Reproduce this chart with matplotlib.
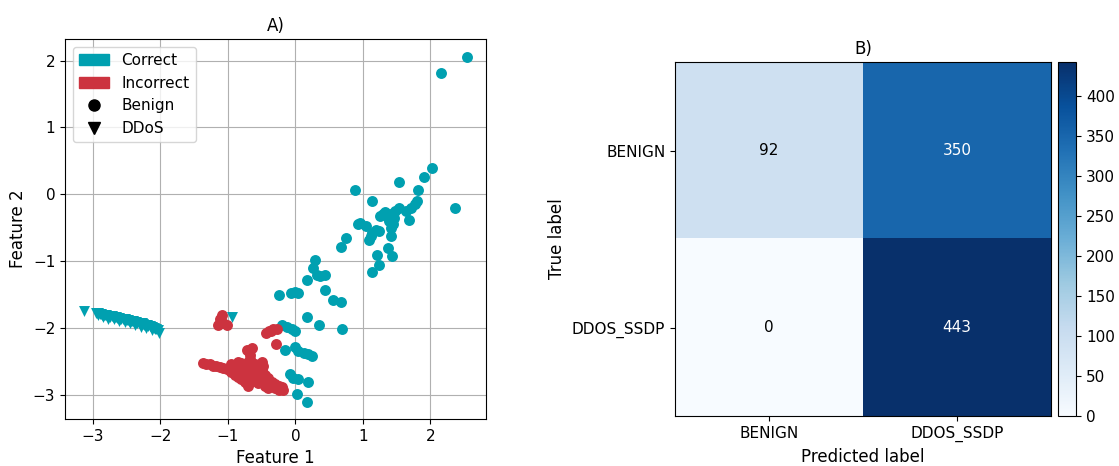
import numpy as np
import matplotlib
matplotlib.use('Agg')
import matplotlib.pyplot as plt
from matplotlib.patches import Patch
from matplotlib.lines import Line2D

teal = '#00A0B0'
red = '#CC333F'

# benign points that were classified correctly
ok_benign_x = [2.54, 2.16, 2.03, 1.90, 1.54, 1.82, 0.88, 2.36, 1.13, 1.80, 1.77, 1.71, 1.64, 1.54,
               1.33, 1.26, 1.41, 1.48, 1.39, 1.46, 1.69, 0.93, 0.95, 1.05, 1.19, 1.24, 1.14, 1.09,
               1.12, 1.41, 1.41, 0.75, 0.67, 1.37, 1.21, 1.43, 1.24, 1.14, 0.29, 0.26, 0.32, 0.37,
               0.44, 0.17, 0.44, 0.56, 0.67, -0.24, -0.07, 0.00, 0.04, 0.17, 0.35, 0.69, -0.20,
               -0.12, -0.05, 0.00, -0.15, 0.00, 0.04, 0.12, 0.19, 0.25, -0.08, -0.03, 0.04, 0.18,
               0.03, 0.17, 1.36, 1.30, 1.44]
ok_benign_y = [2.06, 1.82, 0.39, 0.26, 0.18, 0.07, 0.07, -0.21, -0.10, -0.10, -0.15, -0.20, -0.25, -0.20,
               -0.27, -0.33, -0.30, -0.25, -0.40, -0.35, -0.39, -0.45, -0.43, -0.47, -0.53, -0.55, -0.58, -0.68,
               -0.63, -0.50, -0.63, -0.66, -0.78, -0.80, -0.90, -0.92, -1.05, -1.16, -0.98, -1.10, -1.20, -1.22,
               -1.20, -1.28, -1.43, -1.58, -1.61, -1.50, -1.47, -1.46, -1.47, -1.84, -1.96, -2.01, -1.95,
               -1.99, -2.02, -2.04, -2.32, -2.28, -2.34, -2.37, -2.39, -2.42, -2.69, -2.74, -2.76, -2.80,
               -2.99, -3.10, -0.33, -0.30, -0.45]

# benign points that were misclassified
bad_benign_x = [-1.09, -1.12, -1.14, -1.02, -1.08, -0.39, -0.33, -0.28, -0.43, -0.36, -0.29, -0.72, -0.65,
                -0.68, -0.68, -1.37, -1.32, -1.27, -1.22, -1.17, -1.12, -1.07, -1.02, -0.97,
                -0.95, -0.95, -0.90, -0.90, -0.90, -0.85, -0.85, -0.85, -0.85, -0.80, -0.80, -0.80, -0.80,
                -0.75, -0.75, -0.75, -0.75, -0.70, -0.70, -0.70, -0.70, -0.70, -0.65, -0.65, -0.65, -0.65,
                -0.60, -0.60, -0.60, -0.60, -0.55, -0.55, -0.55, -0.55, -0.49, -0.50, -0.50, -0.50,
                -0.45, -0.45, -0.45, -0.40, -0.40, -0.40, -0.35, -0.35, -0.30, -0.30, -0.25, -0.25,
                -0.20, -0.18, -0.88, -0.78, -0.68, -0.58, -0.48, -0.83, -0.73, -0.63, -0.53, -0.92,
                -0.82, -0.72, -0.62, -0.52, -0.42, -0.33, -0.23]
bad_benign_y = [-1.81, -1.87, -1.96, -1.96, -1.93, -2.04, -2.01, -2.02, -2.07, -2.05, -2.23, -2.32, -2.29,
                -2.40, -2.46, -2.52, -2.53, -2.54, -2.56, -2.57, -2.58, -2.59, -2.61, -2.60,
                -2.53, -2.66, -2.55, -2.63, -2.70, -2.50, -2.58, -2.66, -2.73, -2.52, -2.60, -2.68, -2.76,
                -2.55, -2.63, -2.72, -2.80, -2.50, -2.58, -2.66, -2.75, -2.86, -2.55, -2.63, -2.71, -2.79,
                -2.53, -2.62, -2.70, -2.78, -2.58, -2.66, -2.74, -2.82, -2.51, -2.62, -2.72, -2.80,
                -2.70, -2.78, -2.86, -2.75, -2.83, -2.89, -2.80, -2.87, -2.83, -2.90, -2.86, -2.92,
                -2.88, -2.92, -2.59, -2.56, -2.54, -2.57, -2.56, -2.70, -2.68, -2.67, -2.70, -2.58,
                -2.64, -2.62, -2.74, -2.76, -2.79, -2.84, -2.89]

# ddos points that were classified correctly
ok_ddos_x = [-3.13, -0.94, -2.96, -2.94, -2.92, -2.90, -2.88, -2.86, -2.84, -2.82, -2.80, -2.78, -2.76,
             -2.74, -2.72, -2.70, -2.68, -2.66, -2.64, -2.62, -2.60, -2.58, -2.56, -2.54, -2.52, -2.50,
             -2.48, -2.46, -2.44, -2.42, -2.40, -2.38, -2.36, -2.34, -2.32, -2.30, -2.28, -2.26, -2.24,
             -2.22, -2.20, -2.18, -2.16, -2.14, -2.12, -2.10, -2.08, -2.06, -2.04, -2.02,
             -2.93, -2.85, -2.77, -2.69, -2.61, -2.53, -2.45, -2.37, -2.29, -2.21, -2.13]
ok_ddos_y = [-1.75, -1.83, -1.77, -1.78, -1.77, -1.79, -1.79, -1.80, -1.80, -1.81, -1.80, -1.82, -1.82,
             -1.83, -1.82, -1.84, -1.84, -1.83, -1.85, -1.85, -1.86, -1.86, -1.87, -1.87, -1.86, -1.88,
             -1.88, -1.89, -1.89, -1.90, -1.90, -1.91, -1.91, -1.92, -1.92, -1.93, -1.93, -1.94, -1.95,
             -1.95, -1.96, -1.97, -1.97, -1.98, -1.99, -2.00, -2.01, -2.02, -2.03, -2.07,
             -1.81, -1.83, -1.86, -1.87, -1.89, -1.91, -1.93, -1.96, -1.99, -2.00, -2.03]

classes = ['BENIGN', 'DDOS_SSDP']
cm = np.array([[92, 350],
               [0, 443]])

fs = 11
fig = plt.figure(figsize=(11.19, 4.66), dpi=100)

# A) scatter of the two features
ax = fig.add_axes([0.0581, 0.1009, 0.3762, 0.8148])
ax.grid(True, color='#b0b0b0', lw=0.8)
ax.set_axisbelow(True)
ax.scatter(ok_benign_x, ok_benign_y, c=teal, marker='o', s=62, lw=0)
ax.scatter(bad_benign_x, bad_benign_y, c=red, marker='o', s=62, lw=0)
ax.scatter(ok_ddos_x, ok_ddos_y, c=teal, marker='v', s=62, lw=0)
ax.set_xlabel('Feature 1', fontsize=fs + 1)
ax.set_ylabel('Feature 2', fontsize=fs + 1)
ax.set_title('A)', fontsize=fs + 1)
ax.tick_params(labelsize=fs)
handles = [Patch(color=teal, label='Correct'), Patch(color=red, label='Incorrect'),
           Line2D([], [], color='k', marker='o', ls='', markersize=8, label='Benign'),
           Line2D([], [], color='k', marker='v', ls='', markersize=8, label='DDoS')]
ax.legend(handles=handles, loc='upper left', fontsize=fs)

# B) confusion matrix
ax2 = fig.add_axes([0.6032, 0.107, 0.3360, 0.760])
im = ax2.imshow(cm, interpolation='nearest', cmap=plt.cm.Blues, aspect='auto')
ax2.set_title('B)', fontsize=fs + 1)
ax2.set_xticks(np.arange(len(classes)))
ax2.set_xticklabels(classes)
ax2.set_yticks(np.arange(len(classes)))
ax2.set_yticklabels(classes)
ax2.tick_params(labelsize=fs)
ax2.set_xlabel('Predicted label', fontsize=fs + 1)
ax2.set_ylabel('True label', fontsize=fs + 1)
thresh = cm.max() / 2.
for i in range(cm.shape[0]):
    for j in range(cm.shape[1]):
        ax2.text(j, i, format(cm[i, j], 'd'), ha='center', va='center', fontsize=fs,
                 color='white' if cm[i, j] > thresh else 'black')

cax = fig.add_axes([0.9455, 0.107, 0.0165, 0.760])
cb = fig.colorbar(im, cax=cax)
cb.ax.tick_params(labelsize=fs)

fig.savefig('out.png', dpi=100)
